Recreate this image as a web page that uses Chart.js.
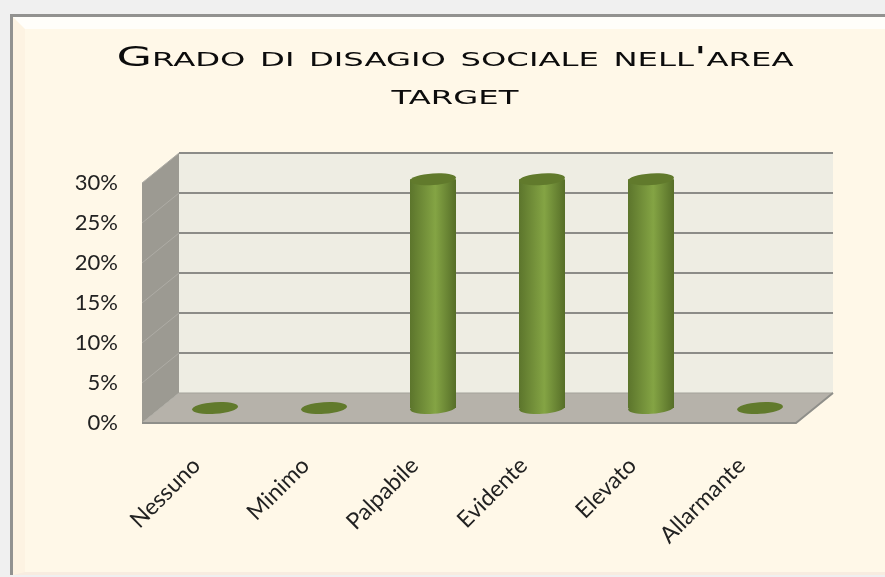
<!DOCTYPE html>
<html>
<head>
<meta charset="utf-8">
<title>Grado di disagio sociale</title>
<script src="https://cdn.jsdelivr.net/npm/chart.js@4"></script>
<style>
  html, body { margin: 0; padding: 0; background: #f0f0f0; overflow: hidden; }
  #frame {
    position: absolute; left: 10px; top: 14px; width: 900px; height: 558px;
    border: 3px solid #929290; border-bottom: 0; background: #fff8e8;
  }
  #bevel {
    width: 100%; height: 100%; box-sizing: border-box;
    border-top: 12px solid #fffefa;
    border-left: 12px solid #fdf3e2;
    border-bottom: 3px solid #f8ece0;
  }
  #chart1 { position: absolute; left: 0; top: 0; }
</style>
</head>
<body>
<div id="frame"><div id="bevel"></div></div>
<canvas id="chart1" width="885" height="577"></canvas>
<script>
var categories = ['Nessuno', 'Minimo', 'Palpabile', 'Evidente', 'Elevato', 'Allarmante'];
var values = [0, 0, 28.6, 28.6, 28.6, 0];
var titleLines = ["Grado di disagio sociale nell'area", 'target'];
var yMax = 30;
var yStep = 5;

var DEPTH_X = 37;
var DEPTH_Y = -30;
var RX = 23;
var RY = 5.8;
var TILT = -0.07;

function barGradient(ctx, x) {
  // scales have no pixels yet on the first pass
  if (!isFinite(x)) return '#84a444';
  var g = ctx.createLinearGradient(x - RX, 0, x + RX, 0);
  g.addColorStop(0, '#5c752c');
  g.addColorStop(0.55, '#84a444');
  g.addColorStop(1, '#566e28');
  return g;
}

function ellipse(ctx, x, y, fill) {
  ctx.beginPath();
  ctx.ellipse(x, y, RX, RY, TILT, 0, Math.PI * 2);
  ctx.fillStyle = fill;
  ctx.fill();
}

// the box behind the bars: walls and floor follow the y scale
var boxPlugin = {
  id: 'box',
  beforeDatasetsDraw: function (chart) {
    var ctx = chart.ctx;
    var a = chart.chartArea;
    var y = chart.scales.y;

    ctx.save();
    ctx.fillStyle = '#eeede3';
    ctx.fillRect(a.left + DEPTH_X, a.top + DEPTH_Y, a.right - a.left, a.bottom - a.top);

    ctx.beginPath();
    ctx.moveTo(a.left, a.top);
    ctx.lineTo(a.left + DEPTH_X, a.top + DEPTH_Y);
    ctx.lineTo(a.left + DEPTH_X, a.bottom + DEPTH_Y);
    ctx.lineTo(a.left, a.bottom);
    ctx.closePath();
    ctx.fillStyle = '#9c9a92';
    ctx.fill();

    ctx.beginPath();
    ctx.moveTo(a.left, a.bottom);
    ctx.lineTo(a.left + DEPTH_X, a.bottom + DEPTH_Y);
    ctx.lineTo(a.right + DEPTH_X, a.bottom + DEPTH_Y);
    ctx.lineTo(a.right, a.bottom);
    ctx.closePath();
    ctx.fillStyle = '#b6b2aa';
    ctx.fill();

    y.ticks.forEach(function (t) {
      var py = y.getPixelForValue(t.value);
      ctx.beginPath();
      ctx.moveTo(a.left, py);
      ctx.lineTo(a.left + DEPTH_X, py + DEPTH_Y);
      ctx.strokeStyle = '#aeaca5';
      ctx.lineWidth = 1;
      ctx.stroke();

      ctx.beginPath();
      ctx.moveTo(a.left + DEPTH_X, py + DEPTH_Y);
      ctx.lineTo(a.right + DEPTH_X, py + DEPTH_Y);
      ctx.strokeStyle = t.value === 0 ? '#a3a199' : '#8c8c88';
      ctx.lineWidth = t.value === 0 ? 1 : 2;
      ctx.stroke();
    });

    // front edges
    ctx.beginPath();
    ctx.moveTo(a.left, a.bottom);
    ctx.lineTo(a.right, a.bottom);
    ctx.lineTo(a.right + DEPTH_X, a.bottom + DEPTH_Y);
    ctx.strokeStyle = '#8f8f8a';
    ctx.lineWidth = 2;
    ctx.stroke();
    ctx.restore();

    // bars sit in the middle of the box depth
    ctx.save();
    ctx.translate(DEPTH_X / 2, DEPTH_Y / 2);
    chart.getDatasetMeta(0).data.forEach(function (bar, i) {
      if (values[i] > 0) ellipse(ctx, bar.x, bar.base, barGradient(ctx, bar.x));
    });
  },
  afterDatasetsDraw: function (chart) {
    var ctx = chart.ctx;
    chart.getDatasetMeta(0).data.forEach(function (bar) {
      ellipse(ctx, bar.x, bar.y, '#617a2c');
    });
    ctx.restore();
  },
  afterDraw: function (chart) {
    // wide small caps title, stretched to the original width
    var ctx = chart.ctx;
    ctx.save();
    ctx.font = 'small-caps 27px "DejaVu Sans"';
    ctx.fillStyle = '#0c0c0c';
    ctx.textAlign = 'center';
    ctx.textBaseline = 'alphabetic';
    var stretch = 677 / ctx.measureText(titleLines[0]).width;
    var baselines = [66, 104];
    titleLines.forEach(function (line, i) {
      ctx.save();
      ctx.translate(455, baselines[i]);
      ctx.scale(stretch, 1);
      ctx.fillText(line, 0, 0);
      ctx.restore();
    });
    ctx.restore();
  }
};

new Chart(document.getElementById('chart1'), {
  type: 'bar',
  data: {
    labels: categories,
    datasets: [{
      data: values,
      barPercentage: 46 / 109,
      categoryPercentage: 1,
      clip: false,
      backgroundColor: function (c) {
        return barGradient(c.chart.ctx, c.chart.scales.x.getPixelForValue(c.dataIndex));
      }
    }]
  },
  options: {
    responsive: false,
    animation: false,
    events: [],
    layout: { padding: { left: 0, top: 183, right: 89, bottom: 0 } },
    plugins: { legend: { display: false }, title: { display: false }, tooltip: { enabled: false } },
    scales: {
      x: {
        grid: { display: false },
        border: { display: false },
        afterFit: function (s) { s.height = 154; },
        ticks: {
          minRotation: 45, maxRotation: 45, padding: 21,
          color: '#222222',
          font: { family: 'Lato', size: 23 }
        }
      },
      y: {
        min: 0, max: yMax,
        grid: { display: false },
        border: { display: false },
        afterFit: function (s) { s.width = 142; },
        ticks: {
          stepSize: yStep, padding: 16,
          color: '#222222',
          font: { family: 'Lato', size: 22 },
          callback: function (v) { return v + '%'; }
        }
      }
    }
  },
  plugins: [boxPlugin]
});
</script>
</body>
</html>
